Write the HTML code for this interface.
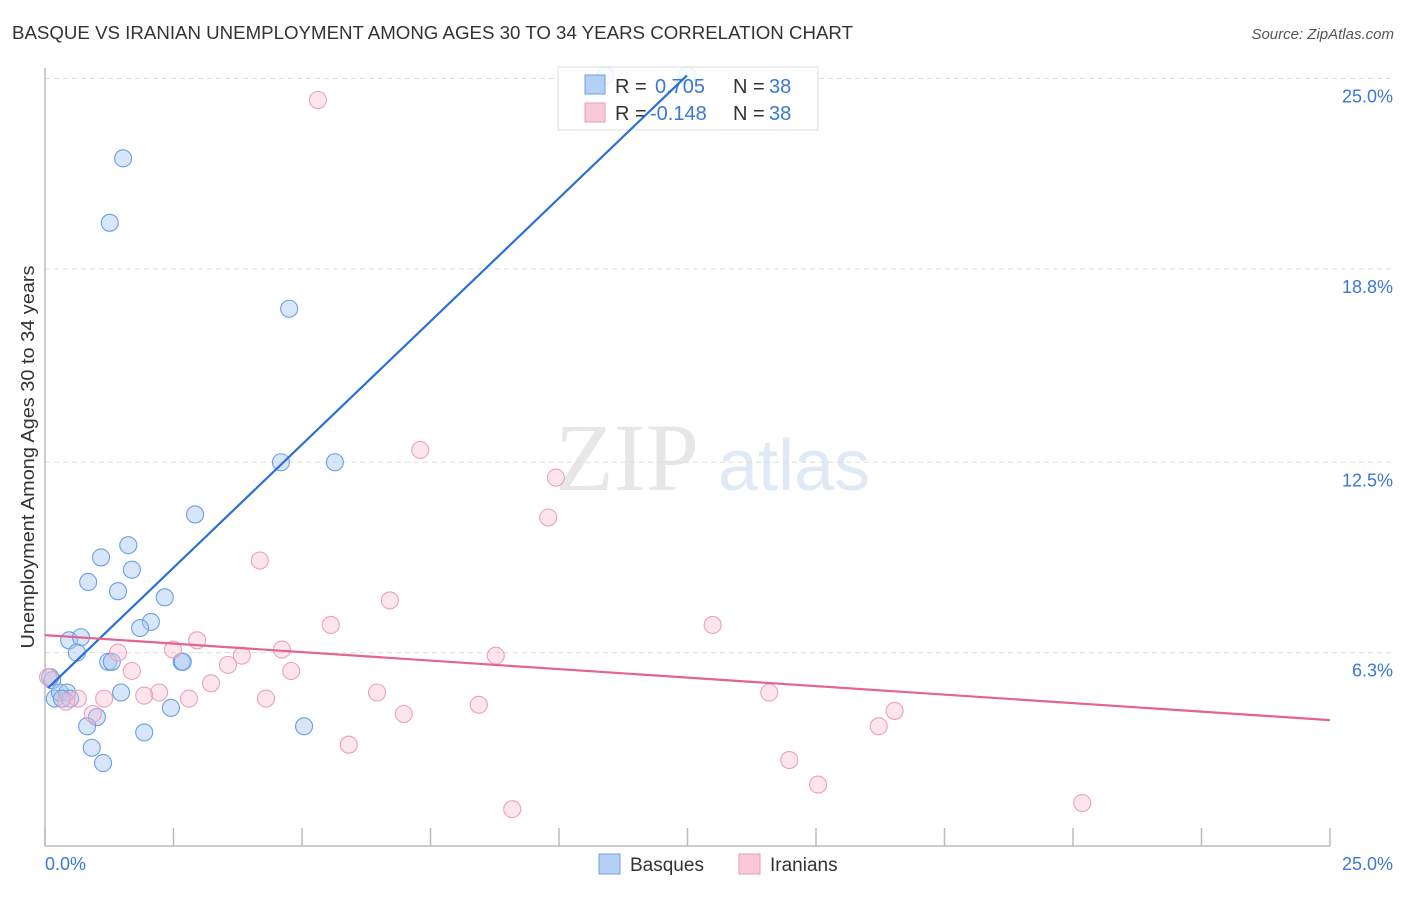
<!DOCTYPE html>
<html><head><meta charset="utf-8">
<style>
body{margin:0;background:#fff;width:1406px;height:892px;overflow:hidden;font-family:"Liberation Sans",sans-serif}
</style></head>
<body>
<svg id="chart" width="1406" height="892" xmlns="http://www.w3.org/2000/svg" font-family="Liberation Sans, sans-serif">
<text x="12" y="39" font-size="18" fill="#333" textLength="841" lengthAdjust="spacingAndGlyphs">BASQUE VS IRANIAN UNEMPLOYMENT AMONG AGES 30 TO 34 YEARS CORRELATION CHART</text>
<text x="1394" y="39" font-size="15" fill="#555" font-style="italic" text-anchor="end">Source: ZipAtlas.com</text>
<g opacity="0.35">
<text x="555" y="490" font-size="96" font-family="Liberation Serif, serif" fill="#bbb">ZIP</text>
<text x="718" y="490" font-size="72" fill="#a8c4ea">atlas</text>
</g>
<g id="grid"></g>
<line x1="45" y1="68" x2="45" y2="846" stroke="#bbb" stroke-width="1.5"/>
<line x1="45" y1="846" x2="1330" y2="846" stroke="#bbb" stroke-width="1.5"/>
<g id="ticks"></g>
<text transform="translate(34,457) rotate(-90)" font-size="18" fill="#333" text-anchor="middle" textLength="383" lengthAdjust="spacingAndGlyphs">Unemployment Among Ages 30 to 34 years</text>
<text x="45" y="870" font-size="18" fill="#3a78d6">0.0%</text>
<text x="1393" y="870" font-size="18" fill="#3a78d6" text-anchor="end">25.0%</text>
<g id="pts"></g>
<g>
<rect x="558" y="67" width="260" height="63" fill="#fff" fill-opacity="0.85" stroke="#ddd"/>
<rect x="585" y="75" width="20" height="19" fill="#b5d0f5" stroke="#6f9fe0"/>
<rect x="585" y="103" width="20" height="19" fill="#f9c9d8" stroke="#ee9ab5"/>
<text y="93" font-size="20" fill="#333"><tspan x="615">R =</tspan><tspan x="655" fill="#3a78d6">0.705</tspan><tspan x="733">N =</tspan><tspan x="769" fill="#3a78d6">38</tspan></text>
<text y="120" font-size="20" fill="#333"><tspan x="615">R =</tspan><tspan x="650" fill="#3a78d6">-0.148</tspan><tspan x="733">N =</tspan><tspan x="769" fill="#3a78d6">38</tspan></text>
</g>
<g id="lines"></g>
<g>
<rect x="599" y="854" width="21" height="20" fill="#b5d0f5" stroke="#6f9fe0"/>
<text x="630" y="871" font-size="19" fill="#333">Basques</text>
<rect x="739" y="854" width="21" height="20" fill="#f9c9d8" stroke="#ee9ab5"/>
<text x="770" y="871" font-size="19" fill="#333">Iranians</text>
</g>
</svg>
<script>
const yTicks=[25.0,18.8,12.5,6.3];
const yTickLabels=["25.0%","18.8%","12.5%","6.3%"];
const xTicks=[0,2.5,5,7.5,10,12.5,15,17.5,20,22.5,25];
const basqueX=[1.52,1.26,4.75,4.59,5.64,2.92,1.62,1.09,0.84,1.69,1.42,2.33,2.06,1.85,0.47,0.70,0.62,1.23,1.30,2.66,2.68,0.14,0.19,0.29,0.43,0.49,0.33,1.48,2.45,1.01,0.82,5.04,1.93,0.91,1.13,10.9,12.49,0.10];
const basqueY=[22.4,20.3,17.5,12.5,12.5,10.8,9.8,9.4,8.6,9.0,8.3,8.1,7.3,7.1,6.7,6.8,6.3,6.0,6.0,6.0,6.0,5.4,4.8,5.0,5.0,4.8,4.8,5.0,4.5,4.2,3.9,3.9,3.7,3.2,2.7,25.1,25.1,5.5];
const iranX=[5.31,7.30,9.94,9.79,4.18,6.71,5.56,12.99,2.96,4.61,2.49,1.42,3.83,8.77,3.56,4.79,1.69,3.23,2.22,1.93,6.46,14.09,4.30,2.80,1.15,0.64,0.41,16.53,6.98,8.44,0.93,16.22,5.91,14.48,15.04,20.18,9.09,0.06];
const iranY=[24.3,12.9,12.0,10.7,9.3,8.0,7.2,7.2,6.7,6.4,6.4,6.3,6.2,6.2,5.9,5.7,5.7,5.3,5.0,4.9,5.0,5.0,4.8,4.8,4.8,4.8,4.7,4.4,4.3,4.6,4.3,3.9,3.3,2.8,2.0,1.4,1.2,5.5];
const basqueTrendX=[0.06,12.49];
const basqueTrendY=[5.15,25.1];
const iranTrendX=[0,25];
const iranTrendY=[6.87,4.1];
const X=v=>45+v*51.4, Y=v=>846-v*30.7;
const NS="http://www.w3.org/2000/svg";
function mk(t,a,p){const e=document.createElementNS(NS,t);for(const k in a)e.setAttribute(k,a[k]);p.appendChild(e);return e;}
const grid=document.getElementById('grid');
yTicks.forEach((v,i)=>{
 const l=mk('line',{x1:45,x2:1394,y1:Y(v),y2:Y(v),stroke:'#ddd','stroke-dasharray':'5,4'},grid);
 
 
 const t=mk('text',{x:1393,y:Y(v)+24,'font-size':18,fill:'#3a78d6','text-anchor':'end'},grid);
 t.textContent=yTickLabels[i];
 
 
});
const ticks=document.getElementById('ticks');
xTicks.forEach(v=>{
 const l=mk('line',{x1:X(v),x2:X(v),y1:828,y2:846,stroke:'#bbb','stroke-width':1.5},ticks);
 
 
});
const pts=document.getElementById('pts');
basqueX.forEach((v,i)=>{
 const c=mk('circle',{cx:X(v),cy:Y(basqueY[i]),r:8.5,fill:'#a9c8f2','fill-opacity':0.45,stroke:'#6b9fe2','stroke-width':1.1},pts);
 
 
});
iranX.forEach((v,i)=>{
 const c=mk('circle',{cx:X(v),cy:Y(iranY[i]),r:8.5,fill:'#f7bdd0','fill-opacity':0.4,stroke:'#eea0bb','stroke-width':1.1},pts);
 
 
});
const lines=document.getElementById('lines');
const bl=mk('line',{x1:X(basqueTrendX[0]),y1:Y(basqueTrendY[0]),x2:X(basqueTrendX[1]),y2:Y(basqueTrendY[1]),stroke:'#2a6fd6','stroke-width':2.2},lines);


const il=mk('line',{x1:X(iranTrendX[0]),y1:Y(iranTrendY[0]),x2:X(iranTrendX[1]),y2:Y(iranTrendY[1]),stroke:'#e4638f','stroke-width':2.2},lines);


</script>
</body></html>
